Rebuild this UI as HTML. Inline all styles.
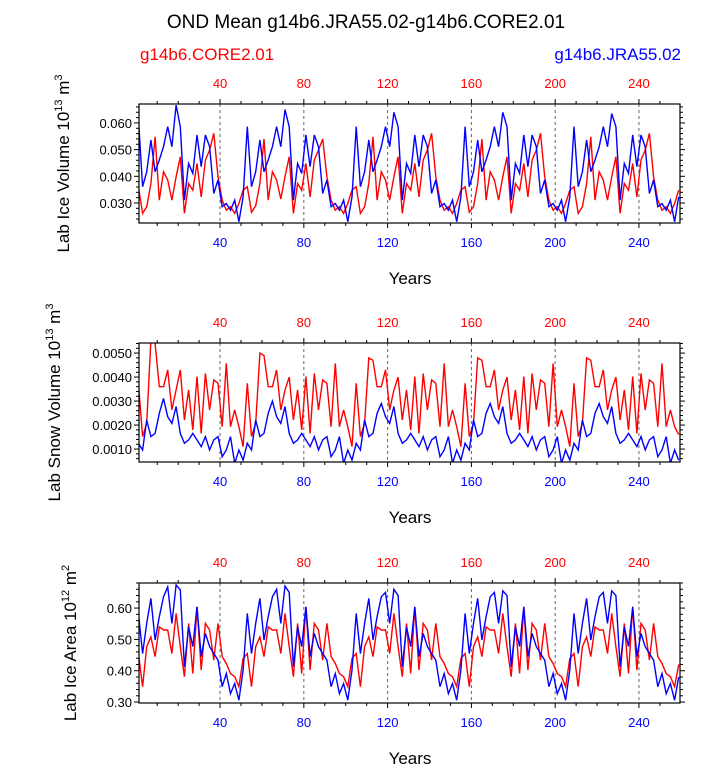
<!DOCTYPE html>
<html><head><meta charset="utf-8">
<style>
html,body{margin:0;padding:0;background:#fff;}
svg{display:block;font-family:"Liberation Sans",Arial,sans-serif;}
</style></head>
<body>
<svg id="chart" width="723" height="765" viewBox="0 0 723 765" xmlns="http://www.w3.org/2000/svg">
<text x="366" y="28" font-size="19" text-anchor="middle">OND Mean g14b6.JRA55.02-g14b6.CORE2.01</text>
<text x="140" y="60" font-size="17" fill="#ff0000">g14b6.CORE2.01</text>
<text x="681" y="60" font-size="17" fill="#0000ff" text-anchor="end">g14b6.JRA55.02</text>
</svg>
<script>
// years at 2-year sampling
const years = [];
for (let i = 0; i < 130; i++) years.push(1 + 2 * i);
const xTicks = [40, 80, 120, 160, 200, 240];

const iceVolRed = [
0.0361,0.0261,0.0286,0.0373,0.0548,0.0311,0.0417,0.0386,0.0311,0.0398,0.0473,0.0261,0.0373,0.0348,0.0448,0.0323,0.0461,0.0498,0.0561,0.0398,0.0311,0.0273,0.0286,0.0261,0.0298,0.0348,
0.0361,0.0265,0.0290,0.0373,0.0540,0.0311,0.0417,0.0386,0.0315,0.0398,0.0473,0.0261,0.0373,0.0348,0.0448,0.0323,0.0461,0.0498,0.0540,0.0398,0.0311,0.0273,0.0286,0.0261,0.0298,0.0348,
0.0361,0.0261,0.0286,0.0373,0.0548,0.0311,0.0417,0.0386,0.0311,0.0398,0.0473,0.0261,0.0373,0.0348,0.0448,0.0323,0.0461,0.0498,0.0561,0.0398,0.0311,0.0273,0.0286,0.0261,0.0298,0.0348,
0.0361,0.0265,0.0286,0.0373,0.0540,0.0311,0.0417,0.0386,0.0311,0.0398,0.0473,0.0261,0.0373,0.0348,0.0448,0.0323,0.0461,0.0498,0.0561,0.0398,0.0311,0.0273,0.0286,0.0261,0.0298,0.0348,
0.0361,0.0261,0.0286,0.0373,0.0548,0.0311,0.0417,0.0386,0.0311,0.0398,0.0473,0.0261,0.0373,0.0348,0.0448,0.0323,0.0461,0.0498,0.0561,0.0398,0.0311,0.0273,0.0286,0.0261,0.0298,0.0348];
const iceVolBlue = [
0.0617,0.0361,0.0417,0.0536,0.0417,0.0461,0.0511,0.0586,0.0511,0.0667,0.0586,0.0311,0.0448,0.0411,0.0555,0.0436,0.0555,0.0511,0.0336,0.0386,0.0286,0.0298,0.0273,0.0311,0.0230,0.0323,
0.0586,0.0361,0.0417,0.0536,0.0417,0.0461,0.0511,0.0586,0.0511,0.0650,0.0586,0.0311,0.0448,0.0411,0.0555,0.0436,0.0555,0.0511,0.0336,0.0386,0.0286,0.0298,0.0273,0.0311,0.0230,0.0323,
0.0586,0.0361,0.0417,0.0536,0.0417,0.0461,0.0511,0.0586,0.0511,0.0640,0.0586,0.0311,0.0448,0.0411,0.0555,0.0436,0.0555,0.0511,0.0336,0.0386,0.0286,0.0298,0.0273,0.0311,0.0230,0.0323,
0.0586,0.0361,0.0417,0.0536,0.0417,0.0461,0.0511,0.0586,0.0511,0.0640,0.0586,0.0311,0.0448,0.0411,0.0555,0.0436,0.0555,0.0511,0.0336,0.0386,0.0286,0.0298,0.0273,0.0311,0.0230,0.0323,
0.0586,0.0361,0.0417,0.0536,0.0417,0.0461,0.0511,0.0586,0.0511,0.0635,0.0586,0.0311,0.0448,0.0411,0.0555,0.0436,0.0555,0.0511,0.0336,0.0386,0.0286,0.0298,0.0273,0.0311,0.0230,0.0323];
const snowRed = [
0.00374,0.00152,0.00207,0.00554,0.00540,0.00360,0.00360,0.00430,0.00263,0.00346,0.00430,0.00221,0.00346,0.00180,0.00402,0.00165,0.00415,0.00263,0.00388,0.00374,0.00193,0.00457,0.00193,0.00263,0.00193,0.00110,
0.00374,0.00152,0.00207,0.00500,0.00490,0.00360,0.00360,0.00430,0.00263,0.00346,0.00400,0.00221,0.00346,0.00180,0.00402,0.00165,0.00415,0.00263,0.00388,0.00374,0.00193,0.00457,0.00193,0.00263,0.00193,0.00110,
0.00374,0.00152,0.00207,0.00480,0.00470,0.00360,0.00360,0.00430,0.00263,0.00346,0.00400,0.00221,0.00346,0.00180,0.00402,0.00165,0.00415,0.00263,0.00388,0.00374,0.00193,0.00457,0.00193,0.00263,0.00193,0.00110,
0.00374,0.00152,0.00207,0.00480,0.00470,0.00360,0.00360,0.00430,0.00263,0.00346,0.00400,0.00221,0.00346,0.00180,0.00402,0.00165,0.00415,0.00263,0.00388,0.00374,0.00193,0.00457,0.00193,0.00263,0.00193,0.00110,
0.00374,0.00152,0.00207,0.00480,0.00470,0.00360,0.00360,0.00430,0.00263,0.00346,0.00400,0.00221,0.00346,0.00180,0.00402,0.00165,0.00415,0.00263,0.00388,0.00374,0.00193,0.00457,0.00193,0.00263,0.00193,0.00160];
const snowBlue = [
0.00124,0.00096,0.00221,0.00152,0.00165,0.00249,0.00311,0.00235,0.00207,0.00277,0.00165,0.00124,0.00138,0.00165,0.00138,0.00110,0.00152,0.00096,0.00138,0.00152,0.00068,0.00096,0.00152,0.00040,0.00096,0.00054,
0.00124,0.00096,0.00221,0.00152,0.00165,0.00249,0.00300,0.00235,0.00207,0.00277,0.00165,0.00124,0.00138,0.00165,0.00138,0.00110,0.00152,0.00096,0.00138,0.00152,0.00068,0.00096,0.00152,0.00040,0.00096,0.00054,
0.00124,0.00096,0.00221,0.00152,0.00165,0.00249,0.00290,0.00235,0.00207,0.00277,0.00165,0.00124,0.00138,0.00165,0.00138,0.00110,0.00152,0.00096,0.00138,0.00152,0.00068,0.00096,0.00152,0.00040,0.00096,0.00054,
0.00124,0.00096,0.00221,0.00152,0.00165,0.00249,0.00290,0.00235,0.00207,0.00277,0.00165,0.00124,0.00138,0.00165,0.00138,0.00110,0.00152,0.00096,0.00138,0.00152,0.00068,0.00096,0.00152,0.00040,0.00096,0.00054,
0.00124,0.00096,0.00221,0.00152,0.00165,0.00249,0.00290,0.00235,0.00207,0.00277,0.00165,0.00124,0.00138,0.00165,0.00138,0.00110,0.00152,0.00096,0.00138,0.00152,0.00068,0.00096,0.00152,0.00040,0.00096,0.00054];
const areaRed = [
0.455,0.349,0.477,0.508,0.445,0.540,0.530,0.530,0.455,0.583,0.477,0.381,0.551,0.391,0.604,0.402,0.551,0.530,0.434,0.551,0.445,0.423,0.391,0.381,0.349,0.439,
0.455,0.349,0.477,0.508,0.445,0.540,0.530,0.530,0.455,0.583,0.477,0.381,0.551,0.391,0.604,0.402,0.551,0.530,0.434,0.551,0.445,0.423,0.391,0.381,0.349,0.439,
0.455,0.349,0.477,0.508,0.445,0.540,0.530,0.530,0.455,0.583,0.477,0.381,0.551,0.391,0.604,0.402,0.551,0.530,0.434,0.551,0.445,0.423,0.391,0.381,0.349,0.439,
0.455,0.349,0.477,0.508,0.445,0.540,0.530,0.530,0.455,0.583,0.477,0.381,0.551,0.391,0.604,0.402,0.551,0.530,0.434,0.551,0.445,0.423,0.391,0.381,0.349,0.439,
0.455,0.349,0.477,0.508,0.445,0.540,0.530,0.530,0.455,0.583,0.477,0.381,0.551,0.391,0.604,0.402,0.551,0.530,0.434,0.551,0.445,0.423,0.391,0.381,0.349,0.420];
const areaBlue = [
0.583,0.455,0.551,0.631,0.498,0.572,0.636,0.668,0.551,0.674,0.658,0.413,0.540,0.477,0.604,0.445,0.519,0.477,0.455,0.434,0.349,0.391,0.327,0.359,0.306,0.402,
0.583,0.455,0.551,0.631,0.498,0.572,0.636,0.660,0.551,0.670,0.650,0.413,0.540,0.477,0.604,0.445,0.519,0.477,0.455,0.434,0.349,0.391,0.327,0.359,0.306,0.402,
0.583,0.455,0.551,0.631,0.498,0.572,0.636,0.650,0.551,0.660,0.640,0.413,0.540,0.477,0.604,0.445,0.519,0.477,0.455,0.434,0.349,0.391,0.327,0.359,0.306,0.402,
0.583,0.455,0.551,0.631,0.498,0.572,0.636,0.650,0.551,0.655,0.640,0.413,0.540,0.477,0.604,0.445,0.519,0.477,0.455,0.434,0.349,0.391,0.327,0.359,0.306,0.402,
0.583,0.455,0.551,0.631,0.498,0.572,0.636,0.650,0.551,0.655,0.640,0.413,0.540,0.477,0.604,0.445,0.519,0.477,0.455,0.434,0.349,0.391,0.327,0.359,0.306,0.380];

const volTicks = [0.030, 0.040, 0.050, 0.060];
const volTickLabels = ["0.030", "0.040", "0.050", "0.060"];
const snowTicks = [0.0010, 0.0020, 0.0030, 0.0040, 0.0050];
const snowTickLabels = ["0.0010", "0.0020", "0.0030", "0.0040", "0.0050"];
const areaTicks = [0.30, 0.40, 0.50, 0.60];
const areaTickLabels = ["0.30", "0.40", "0.50", "0.60"];

const NS = "http://www.w3.org/2000/svg";
const svg = document.getElementById("chart");
function mk(tag, attrs, parent) {
  const e = document.createElementNS(NS, tag);
  for (const k in attrs) e.setAttribute(k, attrs[k]);
  (parent || svg).appendChild(e);
  return e;
}
const X0 = 139, X1 = 680, YR0 = 1.3, YR1 = 259.6;
function xs(v) { return X0 + (v - YR0) / (YR1 - YR0) * (X1 - X0); }

function panel(cfg) {
  const g = mk("g", {});
  
  
  const top = cfg.top, bot = cfg.bot;
  function ys(v) { return bot - (v - cfg.ymin) / (cfg.ymax - cfg.ymin) * (bot - top); }
  const clipId = "clip-" + cfg.name;
  const cp = mk("clipPath", { id: clipId }, g);
  mk("rect", { x: X0, y: top, width: X1 - X0, height: bot - top }, cp);
  // dashed year lines
  xTicks.forEach(t => {
    const l = mk("line", { x1: xs(t), x2: xs(t), y1: top, y2: bot, stroke: "#666", "stroke-width": 1, "stroke-dasharray": "3,3" }, g);
    
    
  });
  // series
  [[cfg.red, "#ff0000", "core2-line"], [cfg.blue, "#0000ff", "jra55-line"]].forEach(([arr, col, nm]) => {
    const d = arr.map((v, i) => (i ? "L" : "M") + xs(years[i]).toFixed(1) + "," + ys(v).toFixed(1)).join("");
    const p = mk("path", { d: d, fill: "none", stroke: col, "stroke-width": 1.4, "clip-path": "url(#" + clipId + ")" }, g);
    
    
  });
  // frame
  const fr = mk("rect", { x: X0, y: top, width: X1 - X0, height: bot - top, fill: "none", stroke: "#000", "stroke-width": 1.2 }, g);
  
  
  // x ticks (minor every 10, major every 40)
  for (let t = 10; t <= 250; t += 10) {
    const len = (t % 40 === 0) ? 5 : 3;
    mk("line", { x1: xs(t), x2: xs(t), y1: bot, y2: bot + len, stroke: "#000" }, g);
    mk("line", { x1: xs(t), x2: xs(t), y1: top, y2: top - len, stroke: "#000" }, g);
  }
  xTicks.forEach(t => {
    const b = mk("text", { x: xs(t), y: bot + 24, "font-size": 13, fill: "#0000ff", "text-anchor": "middle" }, g);
    b.textContent = t;
    
    
    const tt = mk("text", { x: xs(t), y: top - 16, "font-size": 13, fill: "#ff0000", "text-anchor": "middle" }, g);
    tt.textContent = t;
    
    
  });
  // y ticks
  const step = cfg.ticks[1] - cfg.ticks[0];
  for (let v = cfg.ticks[0] - step; v <= cfg.ymax + 1e-9; v += step / 5) {
    if (v < cfg.ymin) continue;
    const major = cfg.ticks.some(t => Math.abs(t - v) < step / 50);
    const len = major ? 5 : 3;
    mk("line", { x1: X0, x2: X0 - len, y1: ys(v), y2: ys(v), stroke: "#000" }, g);
    mk("line", { x1: X1, x2: X1 + len, y1: ys(v), y2: ys(v), stroke: "#000" }, g);
  }
  cfg.ticks.forEach((t, i) => {
    const tl = mk("text", { x: X0 - 7, y: ys(t) + 5, "font-size": 13, "text-anchor": "end" }, g);
    tl.textContent = cfg.tickLabels[i];
    
    
  });
  // axis titles
  const xt = mk("text", { x: 410, y: bot + 61, "font-size": 17, "text-anchor": "middle" }, g);
  xt.textContent = "Years";
  
  
  const cy = (top + bot) / 2;
  const yt = mk("text", { x: 0, y: 0, "font-size": 17, "text-anchor": "middle", transform: "translate(" + cfg.ytx + "," + cy + ") rotate(-90)" }, g);
  
  
  yt.innerHTML = cfg.ytitle + ' 10<tspan font-size="11" dy="-7">' + cfg.exp + '</tspan><tspan dy="7"> m</tspan><tspan font-size="11" dy="-7">' + cfg.unitExp + '</tspan>';
}

panel({ name: "ice-volume-panel", top: 104, bot: 223, ymin: 0.0225, ymax: 0.0671, red: iceVolRed, blue: iceVolBlue, ticks: volTicks, tickLabels: volTickLabels, ytitle: "Lab Ice Volume", exp: "13", unitExp: "3", ytx: 69 });
panel({ name: "snow-volume-panel", top: 343, bot: 462, ymin: 0.00046, ymax: 0.00542, red: snowRed, blue: snowBlue, ticks: snowTicks, tickLabels: snowTickLabels, ytitle: "Lab Snow Volume", exp: "13", unitExp: "3", ytx: 60 });
panel({ name: "ice-area-panel", top: 583, bot: 703, ymin: 0.297, ymax: 0.680, red: areaRed, blue: areaBlue, ticks: areaTicks, tickLabels: areaTickLabels, ytitle: "Lab Ice Area", exp: "12", unitExp: "2", ytx: 76 });
</script>
</body></html>
